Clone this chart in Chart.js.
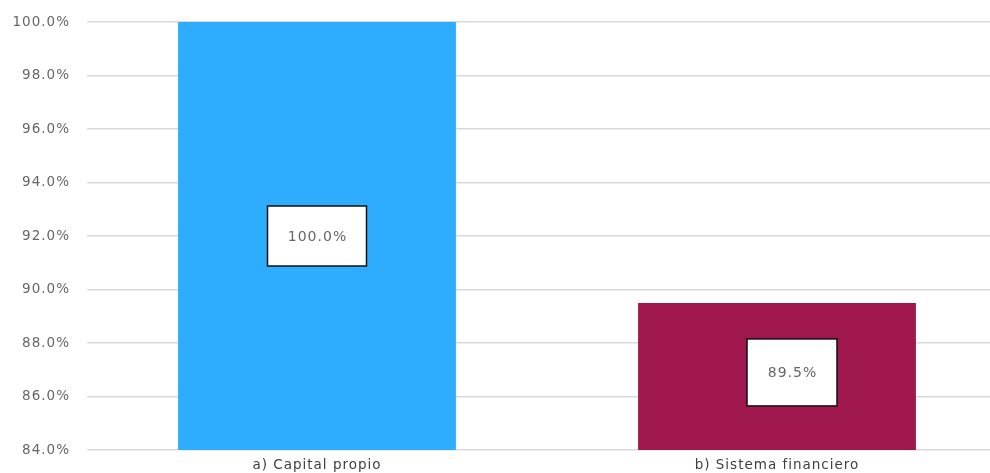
<!DOCTYPE html>
<html>
<head>
<meta charset="utf-8">
<script src="https://cdn.jsdelivr.net/npm/chart.js@4.4.1/dist/chart.umd.min.js"></script>
<style>
  html, body { margin: 0; padding: 0; background: #fff; overflow: hidden; width: 990px; height: 473px; }
  #wrap { position: relative; width: 1007px; height: 473px; }
</style>
</head>
<body>
<div id="wrap"><canvas id="c"></canvas></div>
<script>
const categories = ["a) Capital propio", "b) Sistema financiero"];
const values = [100.0, 89.5];
const barColors = ["#2EADFF", "#A0174E"];
const yTicks = [84, 86, 88, 90, 92, 94, 96, 98, 100];

const FONT = "'DejaVu Sans', sans-serif";
const BOX_SIZES = [[99, 60], [90, 67]];
const BOX_OFFSETS = [[0, 0], [15, -4]];

const spacingPlugin = {
  id: 'spacing',
  beforeDraw(chart) { chart.ctx.letterSpacing = '1px'; }
};

const boxLabels = {
  id: 'boxLabels',
  afterDraw(chart) {
    const ctx = chart.ctx;
    const xs = chart.scales.x, ys = chart.scales.y;
    const base = ys.getPixelForValue(ys.min);
    for (let i = 0; i < values.length; i++) {
      const cx = xs.getPixelForValue(i) + BOX_OFFSETS[i][0];
      const top = ys.getPixelForValue(values[i]);
      const cy = (top + base) / 2 + BOX_OFFSETS[i][1];
      const w = BOX_SIZES[i][0], h = BOX_SIZES[i][1];
      ctx.save();
      ctx.fillStyle = '#ffffff';
      ctx.fillRect(cx - w / 2, cy - h / 2, w, h);
      ctx.lineWidth = 1.5;
      ctx.strokeStyle = '#111111';
      ctx.strokeRect(cx - w / 2, cy - h / 2, w, h);
      ctx.fillStyle = '#666666';
      ctx.font = "14px " + FONT;
      ctx.textAlign = 'center';
      ctx.textBaseline = 'middle';
      ctx.fillText(values[i].toFixed(1) + '%', cx + 0.5, cy + 1);
      ctx.restore();
    }
  }
};

new Chart(document.getElementById('c'), {
  type: 'bar',
  data: {
    labels: categories,
    datasets: [{
      data: values,
      backgroundColor: barColors,
      borderWidth: 0,
      barPercentage: 0.604,
      categoryPercentage: 1.0
    }]
  },
  options: {
    responsive: true,
    maintainAspectRatio: false,
    animation: false,
    layout: { padding: { top: 22, right: 0, left: 0, bottom: 0 } },
    plugins: {
      legend: { display: false },
      tooltip: { enabled: false }
    },
    scales: {
      x: {
        grid: { display: false, drawTicks: false },
        border: { display: false },
        ticks: { color: '#404040', font: { family: FONT, size: 13.5 }, padding: 7 },
        afterFit(scale) { scale.height = 23; scale.paddingLeft = 0; scale.paddingRight = 0; }
      },
      y: {
        min: yTicks[0],
        max: yTicks[yTicks.length - 1],
        afterBuildTicks(scale) { scale.ticks = yTicks.map(v => ({ value: v })); },
        grid: { color: '#d9d9d9', lineWidth: 1.5, drawTicks: false },
        border: { display: false },
        ticks: {
          color: '#666666',
          font: { family: FONT, size: 13.5 },
          padding: 17,
          callback: v => v.toFixed(1) + '%'
        },
        afterFit(scale) { scale.width = 87; scale.paddingTop = 0; scale.paddingBottom = 0; }
      }
    }
  },
  plugins: [spacingPlugin, boxLabels]
});
</script>
</body>
</html>
